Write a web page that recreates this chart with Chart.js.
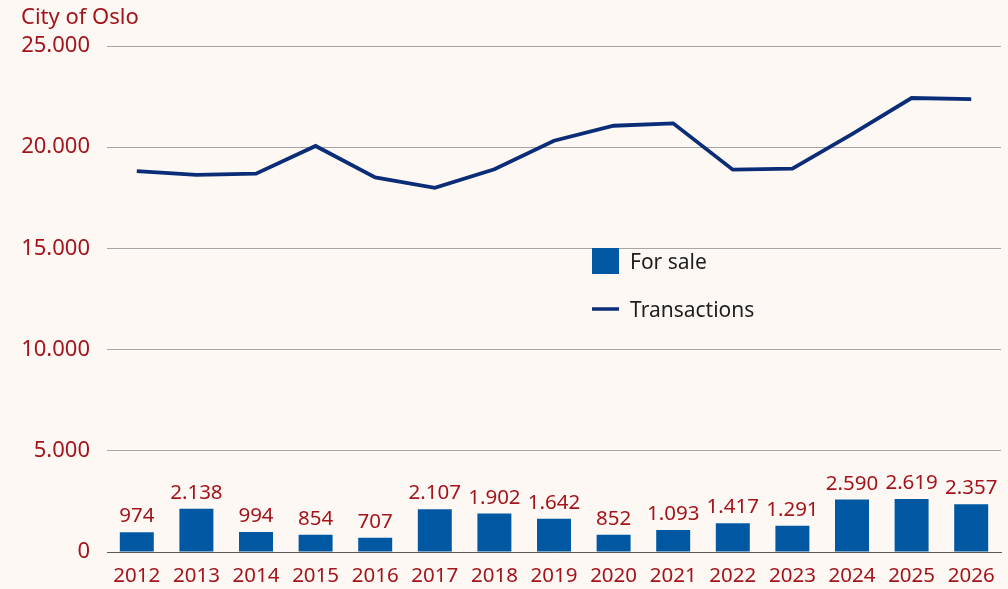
<!DOCTYPE html>
<html lang="en">
<head>
<meta charset="UTF-8">
<title>City of Oslo</title>
<script src="https://cdn.jsdelivr.net/npm/chart.js@4"></script>
<style>
  html, body { margin: 0; padding: 0; background: #fdf8f4; }
  #wrap { width: 1008px; height: 589px; position: relative; }
</style>
<script>
// yearly figures, 2012-2026
var years = ['2012', '2013', '2014', '2015', '2016', '2017', '2018', '2019',
             '2020', '2021', '2022', '2023', '2024', '2025', '2026'];
var forSale = [974, 2138, 994, 854, 707, 2107, 1902, 1642, 852, 1093, 1417, 1291, 2590, 2619, 2357];
var transactions = [18820, 18630, 18690, 20060, 18510, 17990, 18910, 20320,
                    21060, 21180, 18890, 18940, 20650, 22430, 22380];
var yTicks = [0, 5000, 10000, 15000, 20000, 25000];

var red = '#a3141b';
var barBlue = '#0058a3';
var lineBlue = '#0b2d77';
var fontName = '"Noto Sans", sans-serif';

// 25000 -> "25.000"
function fmt(n) {
  return String(n).replace(/\B(?=(\d{3})+(?!\d))/g, '.');
}
</script>
</head>
<body>
<div id="wrap"><canvas id="osloChart" width="1008" height="589"></canvas></div>
<script>

// heading, value labels over the bars and the legend in the middle of the plot
var extras = {
  id: 'extras',
  afterDatasetsDraw: function(chart) {
    var ctx = chart.ctx;
    ctx.save();
    ctx.font = '22px ' + fontName;
    ctx.fillStyle = red;
    ctx.textAlign = 'left';
    ctx.textBaseline = 'alphabetic';
    ctx.fillText('City of Oslo', 21, 24);

    ctx.font = '20.5px ' + fontName;
    ctx.textAlign = 'center';
    var meta = chart.getDatasetMeta(0);
    meta.data.forEach(function(bar, i) {
      ctx.fillText(fmt(forSale[i]), bar.x, bar.y - 10);
    });

    // legend
    var lx = 592, ly = 261;
    ctx.fillStyle = barBlue;
    ctx.fillRect(lx, ly - 13, 27, 26);
    ctx.strokeStyle = lineBlue;
    ctx.lineWidth = 3.5;
    ctx.beginPath();
    ctx.moveTo(lx, ly + 48);
    ctx.lineTo(lx + 27, ly + 48);
    ctx.stroke();
    ctx.fillStyle = '#1e1e1e';
    ctx.font = '21px ' + fontName;
    ctx.textAlign = 'left';
    ctx.fillText(chart.data.datasets[0].label, lx + 38, ly + 8);
    ctx.fillText(chart.data.datasets[1].label, lx + 38, ly + 56);
    ctx.restore();
  }
};

window.onload = function() {
  var ctx = document.getElementById('osloChart').getContext('2d');
  window.myChart = new Chart(ctx, {
    data: {
      labels: years,
      datasets: [
        {
          type: 'bar',
          label: 'For sale',
          data: forSale,
          backgroundColor: barBlue,
          categoryPercentage: 1,
          barPercentage: 0.57,
          order: 2
        },
        {
          type: 'line',
          label: 'Transactions',
          data: transactions,
          borderColor: lineBlue,
          borderWidth: 3.8,
          pointRadius: 0,
          tension: 0,
          fill: false,
          order: 1
        }
      ]
    },
    options: {
      responsive: false,
      animation: false,
      layout: { padding: { top: 46, right: 7, bottom: 0, left: 0 } },
      plugins: {
        legend: { display: false },
        title: { display: false },
        tooltip: { enabled: false }
      },
      scales: {
        x: {
          afterFit: function(scale) { scale.height = 37; },
          grid: { display: false, drawTicks: false },
          border: { display: true, color: '#5a5a5a', width: 1 },
          ticks: {
            color: red,
            font: { family: fontName, size: 20.5 },
            padding: 12,
            maxRotation: 0
          }
        },
        y: {
          min: 0,
          max: 25000,
          afterBuildTicks: function(scale) {
            scale.ticks = yTicks.map(function(v) { return { value: v }; });
          },
          afterFit: function(scale) { scale.width = 107; },
          grid: { color: '#a6a6a6', lineWidth: 1, drawTicks: false },
          border: { display: false },
          ticks: {
            color: red,
            font: { family: fontName, size: 22 },
            padding: 17,
            callback: function(v) { return fmt(v); }
          }
        }
      }
    },
    plugins: [extras]
  });
};
</script>
</body>
</html>
